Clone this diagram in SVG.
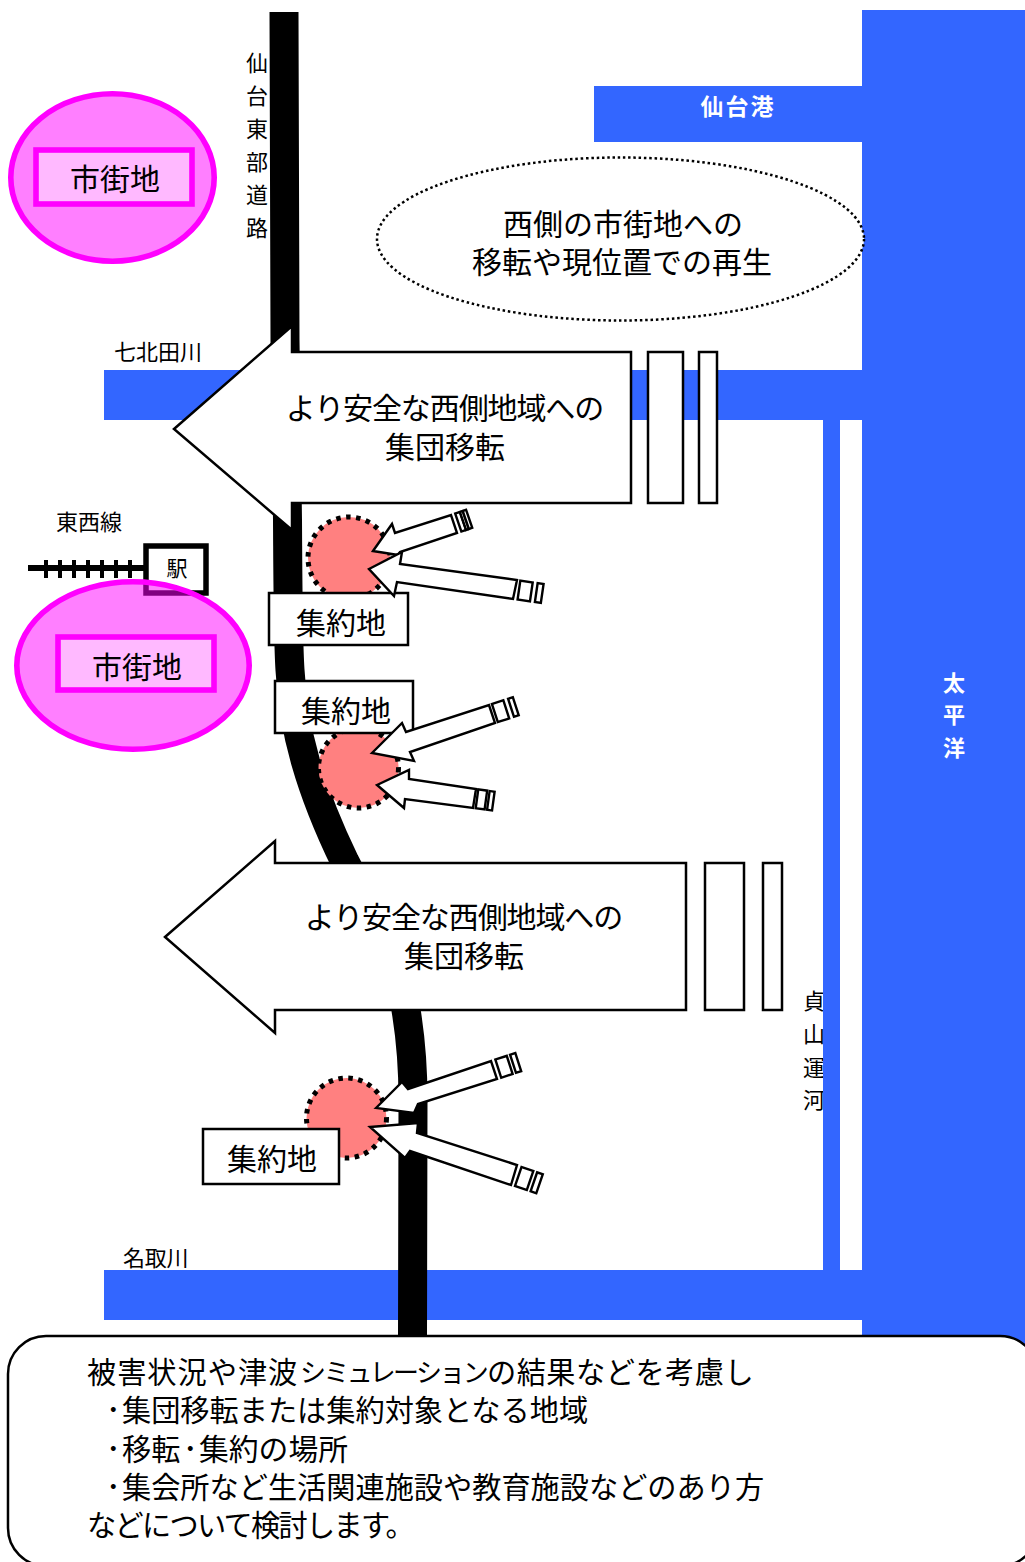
<svg xmlns="http://www.w3.org/2000/svg" width="1025" height="1562" viewBox="0 0 1025 1562">
<style>
text{font-family:"Noto Sans CJK JP","Liberation Sans",sans-serif;fill:#000;dominant-baseline:central}
.w{fill:#fff;font-weight:700}
.m{text-anchor:middle}
.blue{fill:#36f}
.box{fill:#fff;stroke:#000;stroke-width:2.5;stroke-linejoin:miter}
.sm{fill:#fff;stroke:#000;stroke-width:2.4}
.circ{fill:#ff8080;stroke:#000;stroke-width:5;stroke-dasharray:4.5 5.5}
.city{fill:#f0f;fill-opacity:.5;stroke:#f0f;stroke-width:5.6}
.cityl{fill:#ffb9ff;stroke:#f0f;stroke-width:5.6}
.t22{font-size:22px}.t30{font-size:30px}.t29{font-size:29.2px}
.ar1{font-size:30px;letter-spacing:-1.1px}
</style>
<rect width="1025" height="1562" fill="#fff"/>
<g id="labels-back">
<text class="t22 m" x="814"><tspan x="814" y="999">貞</tspan><tspan x="814" y="1032">山</tspan><tspan x="814" y="1066">運</tspan><tspan x="814" y="1098">河</tspan></text>
</g>
<g id="water">
<rect class="blue" x="862" y="10" width="163" height="1340"/>
<rect class="blue" x="594" y="86" width="268" height="56"/>
<rect class="blue" x="104" y="370" width="758" height="50"/>
<rect class="blue" x="823" y="420" width="17" height="850"/>
<rect class="blue" x="104" y="1270" width="758" height="50"/>
</g>
<g id="water-labels">
<text class="w m" style="font-size:23px;letter-spacing:2px" x="738" y="105">仙台港</text>
<text class="t22 w m" x="954"><tspan x="954" y="681">太</tspan><tspan x="954" y="713">平</tspan><tspan x="954" y="746">洋</tspan></text>
<text class="t22" x="114" y="350">七北田川</text>
<text class="t22" style="letter-spacing:-.2px" x="123" y="1256">名取川</text>
<text class="t22 m" x="257"><tspan x="257" y="61">仙</tspan><tspan x="257" y="94">台</tspan><tspan x="257" y="127">東</tspan><tspan x="257" y="160">部</tspan><tspan x="257" y="193">道</tspan><tspan x="257" y="226">路</tspan></text>
<text class="t22" x="56" y="520">東西線</text>
</g>
<g id="connectors">
<path id="road" d="M284 12L285 340L287.5 520C288 600 288 640 290 670C293 730 310 790 345 862C375 920 400 960 406 1010C411 1040 413 1070 413 1100L412.5 1335" fill="none" stroke="#000" stroke-width="29"/>
<g id="railway" stroke="#000">
<path d="M28 568H146" stroke-width="6" fill="none"/>
<path d="M46 560V578M60 560V578M74 560V578M88 560V578M102 560V578M116 560V578M130 560V578" stroke-width="4" fill="none"/>
</g>
</g>
<g id="station"><rect x="146" y="546" width="60" height="47" fill="#fff" stroke="#000" stroke-width="5.500"/><text class="m" style="font-size:21px" x="177" y="567">駅</text></g>
<g id="city1"><ellipse class="city" cx="112.500" cy="177.500" rx="101.700" ry="83.700"/><rect class="cityl" x="36" y="150" width="156" height="54"/><text class="t30 m" x="115" y="177">市街地</text></g>
<g id="city2"><ellipse class="city" cx="133" cy="665.500" rx="116.200" ry="83.700"/><rect class="cityl" x="58" y="637" width="156" height="53"/><text class="t30 m" x="137" y="665">市街地</text></g>
<g id="proposal"><ellipse cx="620.500" cy="239" rx="243.500" ry="81.500" fill="#fff" stroke="#000" stroke-width="2.500" stroke-dasharray="2.500 2.800"/><text class="t30 m" x="623" y="222">西側の市街地への</text><text class="t30 m" x="622" y="260">移転や現位置での再生</text></g>
<g id="site1"><circle class="circ" cx="349" cy="558" r="41"/></g>
<g id="site2"><circle class="circ" cx="358.500" cy="768" r="40"/></g>
<g id="site3"><circle class="circ" cx="346.500" cy="1118" r="40"/></g>
<g id="label1"><rect class="box" x="269" y="593" width="139" height="52"/><text class="t30 m" x="341" y="621">集約地</text></g>
<g id="label2"><rect class="box" x="275" y="681" width="138" height="52"/><text class="t30 m" x="346" y="709">集約地</text></g>
<g id="label3"><rect class="box" x="203" y="1129" width="136" height="55"/><text class="t30 m" x="272" y="1157">集約地</text></g>
<g id="relocate1"><polygon class="box" points="174,429 292,326 292,352 631,352 631,503 292,503 292,530"/>
<rect class="box" x="648" y="352" width="35" height="151"/><rect class="box" x="699" y="352" width="18" height="151"/>
<text class="ar1 m" x="444.500" y="406">より安全な西側地域への</text><text class="t30 m" x="445" y="445">集団移転</text></g>
<g id="relocate2"><polygon class="box" points="165,937 275,841 275,863 686,863 686,1010 275,1010 275,1033"/>
<rect class="box" x="705" y="863" width="39" height="147"/><rect class="box" x="763" y="863" width="19" height="147"/>
<text class="ar1 m" x="463.500" y="915">より安全な西側地域への</text><text class="t30 m" x="464" y="954">集団移転</text></g>
<g id="arrow1"><polygon class="sm" points="373,551 392,524 395,533 451,515 457,533 400,552 398,555"/><g transform="translate(454 524) rotate(-19)"><rect class="sm" x="4.500" y="-9.500" width="5" height="19"/><rect class="sm" x="9.500" y="-9.500" width="3" height="19"/><rect class="sm" x="12.500" y="-9.500" width="3.500" height="19"/></g></g>
<g id="arrow2"><polygon class="sm" points="369,569 402,552 400,564 517,580 513,599 397,582 394,596"/><g transform="translate(515 589.500) rotate(8.300)"><rect class="sm" x="4" y="-9.500" width="12.500" height="19"/><rect class="sm" x="21.500" y="-9.500" width="6" height="19"/></g></g>
<g id="arrow3"><polygon class="sm" points="372,753 402,723 406,732 489,705 495,723 410,752 414,761"/><g transform="translate(492 714) rotate(-18)"><rect class="sm" x="3" y="-9.500" width="12" height="19"/><rect class="sm" x="20" y="-9.500" width="5" height="19"/></g></g>
<g id="arrow4"><polygon class="sm" points="377,785 409,770 409,779 476,789 473,808 405,799 404,808"/><g transform="translate(474.500 798.500) rotate(7.800)"><rect class="sm" x="2.500" y="-9.500" width="9" height="19"/><rect class="sm" x="14" y="-9.500" width="5" height="19"/></g></g>
<g id="arrow5"><polygon class="sm" points="376,1108 402,1082 408,1089 491,1061 497,1079 418,1104 414,1113"/><g transform="translate(494 1070) rotate(-18)"><rect class="sm" x="4.500" y="-9.500" width="12" height="19"/><rect class="sm" x="20" y="-9.500" width="5.500" height="19"/></g></g>
<g id="arrow6"><polygon class="sm" points="370,1127 418,1123 417,1133 517,1165 511,1185 410,1151 405,1158"/><g transform="translate(514 1175) rotate(19)"><rect class="sm" x="4.500" y="-10" width="12.500" height="20"/><rect class="sm" x="21" y="-10" width="6" height="20"/></g></g>
<g id="note"><rect x="8" y="1336" width="1030" height="230" rx="38" ry="38" fill="#fff" stroke="#000" stroke-width="2.5"/>
<text class="t29" x="87" y="1370"><tspan x="87" style="letter-spacing:1px">被害状況や津波</tspan><tspan x="300" style="font-size:26px;letter-spacing:-2.600px">シミュレーション</tspan><tspan x="487" style="letter-spacing:.5px">の結果などを考慮し</tspan></text>
<text class="t29" x="106" y="1408">･<tspan x="122">集団移転または集約対象となる地域</tspan></text>
<text class="t29" x="106" y="1447">･<tspan x="122">移転</tspan><tspan x="183">･</tspan><tspan x="199" style="font-size:29.800px">集約の場所</tspan></text>
<text class="t29" x="106" y="1485">･<tspan x="122">集会所など生活関連施設や教育施設などのあり方</tspan></text>
<text class="t29" style="letter-spacing:-1.7px" x="87" y="1523">などについて検討します。</text></g>
</svg>
